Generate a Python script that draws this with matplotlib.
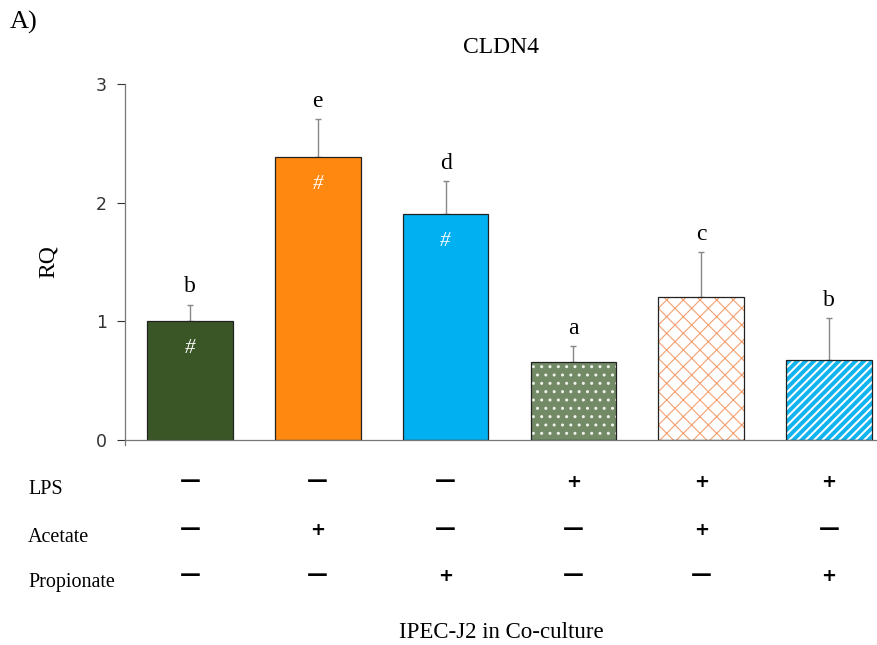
import matplotlib
matplotlib.use("Agg")
import matplotlib.pyplot as plt
import matplotlib.transforms as mtransforms
import numpy as np

plt.rcParams['font.family'] = ['Liberation Serif', 'DejaVu Serif']

groups = ["Control", "Acetate", "Propionate", "LPS", "LPS+Acetate", "LPS+Propionate"]
rq = [1.00, 2.38, 1.90, 0.66, 1.20, 0.67]
sd = [0.14, 0.32, 0.28, 0.13, 0.38, 0.36]
letters = ["b", "e", "d", "a", "c", "b"]
hash_mark = [True, True, True, False, False, False]

row_names = ["LPS", "Acetate", "Propionate"]
rows = [
    ["—", "—", "—", "+", "+", "+"],
    ["—", "+", "—", "—", "+", "—"],
    ["—", "—", "+", "—", "—", "+"],
]

# fill colour, hatch, hatch colour, hatch linewidth
styles = [
    ("#3a5626", None, None, 1.0),
    ("#ff8811", None, None, 1.0),
    ("#00b0f0", None, None, 1.0),
    ("#728b66", "..", "#eef2ea", 1.0),
    ("white", "xx", "#f4a070", 0.8),
    ("white", "////", "#11b4ee", 2.8),
]

fig = plt.figure(figsize=(8.77, 6.45), dpi=100)
ax = fig.add_axes([0.1425, 0.318, 0.8575, 0.552])

x = np.arange(len(groups))
w = 0.67
for i in range(len(groups)):
    face, hatch, hcol, hlw = styles[i]
    if hatch:
        with plt.rc_context({'hatch.linewidth': hlw}):
            ax.bar(x[i], rq[i], w, color=face, edgecolor=hcol, hatch=hatch, linewidth=0, zorder=2)
        ax.bar(x[i], rq[i], w, color='none', edgecolor='#222222', linewidth=0.9, zorder=3)
    else:
        ax.bar(x[i], rq[i], w, color=face, edgecolor='#222222', linewidth=0.9, zorder=2)

ax.errorbar(x, rq, yerr=[np.zeros(len(sd)), sd], fmt='none', ecolor='#888888',
            elinewidth=1, capsize=2.5, capthick=1, zorder=1)

for i in range(len(groups)):
    ax.text(x[i], rq[i] + sd[i] + 0.06, letters[i], ha='center', va='bottom',
            fontsize=17)
    if hash_mark[i]:
        ax.text(x[i], rq[i] - 0.15, "#", ha='center', va='top', color='white',
                fontsize=15, style='italic')

ax.set_xlim(-0.508, 5.375)
ax.set_ylim(0, 3)
ax.set_yticks([0, 1, 2, 3])
ax.set_xticks([])
ax.tick_params(axis='y', labelsize=12.5, colors='#333333', length=6, width=0.8, pad=7)
for lbl in ax.get_yticklabels():
    lbl.set_family('DejaVu Sans')
for s in ['top', 'right']:
    ax.spines[s].set_visible(False)
for s in ['left', 'bottom']:
    ax.spines[s].set_color('#777777')
    ax.spines[s].set_linewidth(0.9)
ax.spines['left'].set_bounds(-0.04, 3)
ax.set_ylabel("RQ", fontsize=17, labelpad=27)
ax.set_title("CLDN4", fontsize=17, pad=22)

# treatment table under the bars
trans = mtransforms.blended_transform_factory(ax.transData, fig.transFigure)
row_y = [1 - 489 / 645, 1 - 537 / 645, 1 - 583 / 645]
for r, name in enumerate(row_names):
    fig.text(28 / 877, row_y[r], name, ha='left', va='center', fontsize=14.5)
    for i, sym in enumerate(rows[r]):
        if sym == "+":
            ax.text(x[i], row_y[r] + 0.011, sym, transform=trans, ha='center', va='center',
                    fontsize=13, fontweight='bold', family='DejaVu Sans')
        else:
            ax.text(x[i], row_y[r] + 0.012, sym, transform=trans, ha='center', va='center',
                    fontsize=15, fontweight='bold', family='DejaVu Sans')

fig.text(501 / 877, 1 - 632 / 645, "IPEC-J2 in Co-culture", ha='center', va='center', fontsize=16.5)
fig.text(10 / 877, 1 - 22 / 645, "A)", ha='left', va='center', fontsize=19)

fig.savefig("out.png", dpi=100)
